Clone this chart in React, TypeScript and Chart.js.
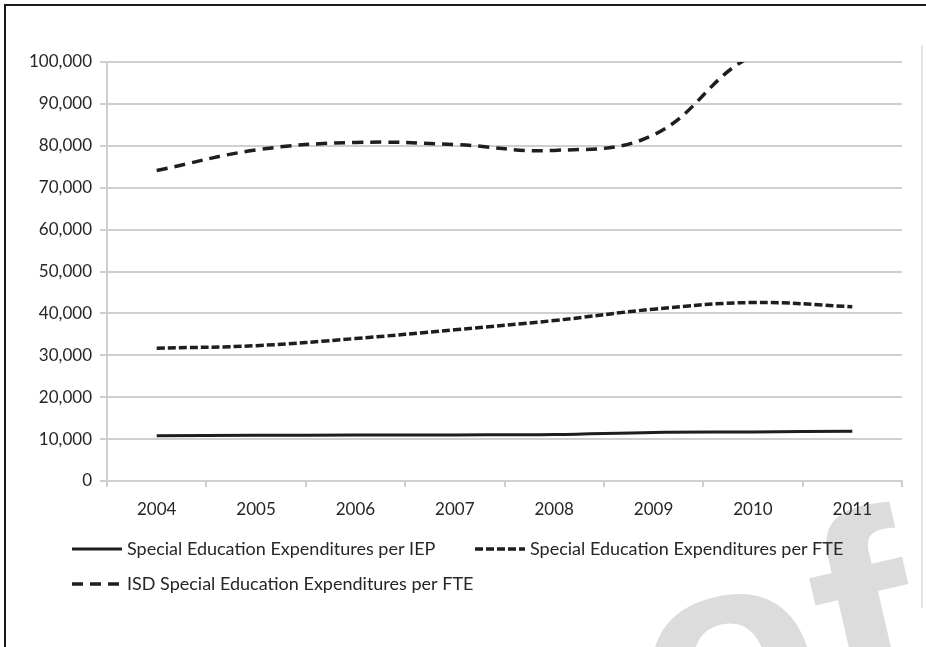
import React, { useEffect, useRef } from 'react';
import { Chart, registerables } from 'chart.js';

Chart.register(...registerables);

// ---- data ----
const years = ['2004', '2005', '2006', '2007', '2008', '2009', '2010', '2011'];
const iepValues = [10800, 10900, 10950, 11000, 11100, 11600, 11700, 11900];
const fteValues = [31700, 32300, 34000, 36100, 38300, 41000, 42600, 41600];
const isdValues = [74100, 79000, 80800, 80300, 78900, 82600, 101500, 105000];
const seriesLabels = [
  'Special Education Expenditures per IEP',
  'Special Education Expenditures per FTE',
  'ISD Special Education Expenditures per FTE',
];
const yMin = 0;
const yMax = 100000;
const yStep = 10000;

const FONT = 'Lato, "Open Sans", "Liberation Sans", sans-serif';
const TEXT = '#262626';
const GRID = '#cfcfcf';
const LINE = '#1e1e1e';

const legendPlugin = {
  id: 'excelLegend',
  afterDraw(chart: any) {
    const ctx = chart.ctx;
    const spots = [
      { x: 72, y: 549 },
      { x: 475, y: 549 },
      { x: 72, y: 584 },
    ];
    chart.data.datasets.forEach((ds: any, i: number) => {
      const p = spots[i];
      if (!p) return;
      ctx.save();
      ctx.strokeStyle = ds.borderColor;
      ctx.lineWidth = ds.borderWidth;
      ctx.setLineDash(ds.borderDash || []);
      ctx.beginPath();
      ctx.moveTo(p.x, p.y);
      ctx.lineTo(p.x + 50, p.y);
      ctx.stroke();
      ctx.setLineDash([]);
      ctx.fillStyle = TEXT;
      ctx.font = `18px ${FONT}`;
      ctx.textBaseline = 'middle';
      ctx.textAlign = 'left';
      ctx.fillText(ds.label, p.x + 55, p.y);
      ctx.restore();
    });
  },
};

export default function App() {
  const ref = useRef<HTMLCanvasElement>(null);

  useEffect(() => {
    const canvas = ref.current;
    if (!canvas) return;
    const chart = new Chart(canvas, {
      type: 'line',
      data: {
        labels: years,
        datasets: [
          {
            label: seriesLabels[0],
            data: iepValues,
            borderColor: LINE,
            borderWidth: 3,
            tension: 0.4,
            pointRadius: 0,
            fill: false,
            clip: 0,
          },
          {
            label: seriesLabels[1],
            data: fteValues,
            borderColor: LINE,
            borderWidth: 3.5,
            borderDash: [8, 3],
            tension: 0.4,
            pointRadius: 0,
            fill: false,
            clip: 0,
          },
          {
            label: seriesLabels[2],
            data: isdValues,
            borderColor: LINE,
            borderWidth: 3.5,
            borderDash: [11, 7],
            tension: 0.4,
            pointRadius: 0,
            fill: false,
            clip: 0,
          },
        ],
      },
      options: {
        responsive: false,
        animation: false,
        events: [],
        layout: { padding: { left: 0, right: 24, top: 62, bottom: 128 } },
        plugins: {
          legend: { display: false },
          tooltip: { enabled: false },
        },
        scales: {
          x: {
            type: 'category',
            offset: true,
            grid: {
              offset: true,
              drawOnChartArea: false,
              drawTicks: true,
              tickLength: 6,
              color: GRID,
              lineWidth: 2,
            },
            border: { display: true, color: GRID, width: 2 },
            ticks: {
              color: TEXT,
              font: { family: FONT, size: 17 },
              padding: 12,
              maxRotation: 0,
            },
            afterFit: (s: any) => {
              s.height = 38;
            },
          },
          y: {
            min: yMin,
            max: yMax,
            grid: {
              color: GRID,
              lineWidth: 2,
              tickLength: 7,
            },
            border: { display: true, color: GRID, width: 2 },
            ticks: {
              stepSize: yStep,
              color: TEXT,
              font: { family: FONT, size: 17 },
              padding: 8,
              callback: (v: any) => Number(v).toLocaleString('en-US'),
            },
            afterFit: (s: any) => {
              s.width = 107;
            },
          },
        },
      },
      plugins: [legendPlugin],
    } as any);
    return () => chart.destroy();
  }, []);

  return (
    <div
      style={{
        position: 'absolute',
        left: 0,
        top: 0,
        width: 926,
        height: 647,
        overflow: 'hidden',
        background: '#ffffff',
      }}
    >
      <div
        style={{
          position: 'absolute',
          left: 4,
          top: 4,
          right: 0,
          bottom: 0,
          borderLeft: '2px solid #1a1a1a',
          borderTop: '2px solid #1a1a1a',
        }}
      />
      <div
        style={{
          position: 'absolute',
          left: 921,
          top: 45,
          width: 2,
          height: 563,
          background: '#e2e2e2',
        }}
      />
      <div
        style={{
          position: 'absolute',
          left: 624,
          top: 472,
          fontFamily: '"Liberation Sans", Arial, sans-serif',
          fontWeight: 'bold',
          fontSize: 300,
          lineHeight: '300px',
          color: '#dcdcdc',
          whiteSpace: 'nowrap',
          transform: 'rotate(-13deg)',
          transformOrigin: '234px 115px',
        }}
      >
        of
      </div>
      <canvas
        ref={ref}
        width={926}
        height={647}
        style={{ position: 'absolute', left: 0, top: 0, width: 926, height: 647 }}
      />
    </div>
  );
}
